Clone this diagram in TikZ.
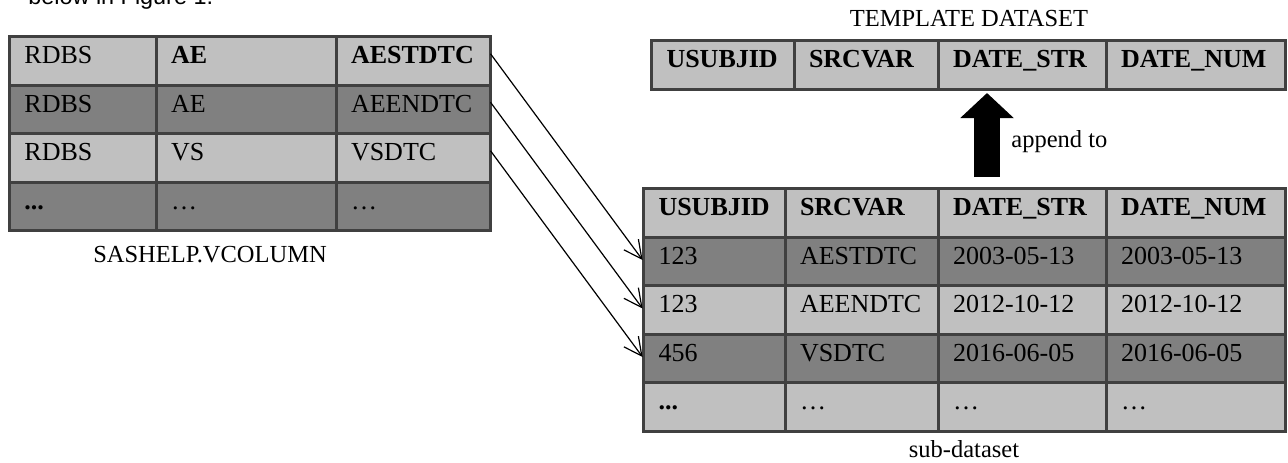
\documentclass[tikz,border=0pt]{standalone}
\usepackage{fontspec}
\setmainfont{Liberation Serif}
\newfontfamily\introfont{Liberation Sans}
\usetikzlibrary{positioning,arrows.meta}

\definecolor{lightcell}{HTML}{C0C0C0}
\definecolor{darkcell}{HTML}{808080}
\definecolor{gridline}{HTML}{404040}

\tikzset{
  cell/.style={draw=gridline, line width=1.5pt, outer sep=0pt, anchor=north west,
    inner xsep=7.5pt, inner ysep=4.5pt, text width=#1, text height=9pt, text depth=6.25pt,
    align=left, font=\fontsize{13pt}{15pt}\selectfont},
  caption/.style={anchor=base, font=\fontsize{12.25pt}{14pt}\selectfont},
  link/.style={line width=0.6pt, -{Straight Barb[length=9pt,width=9pt]}, shorten >=0.75pt},
}

\begin{document}
\begin{tikzpicture}[x=0.5pt,y=-0.5pt]
  \useasboundingbox (0,0) rectangle (1288,462);

  \node[anchor=base west, inner sep=0pt, font=\introfont\fontsize{11.7pt}{14pt}\selectfont]
    (intro) at (28,4) {below in Figure 1.};

  % SASHELP.VCOLUMN
  \foreach \r/\shade/\ca/\cb/\cc in {0/lightcell/RDBS/{\textbf{AE}}/{\textbf{AESTDTC}},
      1/darkcell/RDBS/AE/AEENDTC, 2/lightcell/RDBS/VS/VSDTC,
      3/darkcell/{\textbf{...}}/…/…}{
    \node[cell=58.25pt, fill=\shade] (vc-\r-1) at (9.5,{36.5+48.5*\r}) {\ca};
    \node[cell=75pt, fill=\shade, right=0pt of vc-\r-1] (vc-\r-2) {\cb};
    \node[cell=62.25pt, fill=\shade, right=0pt of vc-\r-2] (vc-\r-3) {\cc};
  }
  \node[caption] (vclabel) at (210,262) {SASHELP.VCOLUMN};

  % template dataset
  \node[caption] (tplabel) at (969,26) {TEMPLATE DATASET};
  \node[cell=56.25pt, fill=lightcell] (tp-1) at (651.5,40.5) {\textbf{USUBJID}};
  \node[cell=57pt, fill=lightcell, right=0pt of tp-1] (tp-2) {\textbf{SRCVAR}};
  \node[cell=69pt, fill=lightcell, right=0pt of tp-2] (tp-3) {\textbf{DATE\_STR}};
  \node[cell=74.75pt, fill=lightcell, right=0pt of tp-3] (tp-4) {\textbf{DATE\_NUM}};

  % sub-dataset
  \foreach \r/\shade/\ca/\cb/\cc/\cd in {0/lightcell/{\textbf{USUBJID}}/{\textbf{SRCVAR}}/{\textbf{DATE\_STR}}/{\textbf{DATE\_NUM}},
      1/darkcell/123/AESTDTC/2003-05-13/2003-05-13,
      2/lightcell/123/AEENDTC/2012-10-12/2012-10-12,
      3/darkcell/456/VSDTC/2016-06-05/2016-06-05,
      4/lightcell/{\textbf{...}}/…/…/…}{
    \node[cell=55.75pt, fill=\shade] (sd-\r-1) at (643.5,{188.5+48.5*\r}) {\ca};
    \node[cell=61.5pt, fill=\shade, right=0pt of sd-\r-1] (sd-\r-2) {\cb};
    \node[cell=69pt, fill=\shade, right=0pt of sd-\r-2] (sd-\r-3) {\cc};
    \node[cell=74.75pt, fill=\shade, right=0pt of sd-\r-3] (sd-\r-4) {\cd};
  }
  \node[caption] (sdlabel) at (964,457) {sub-dataset};

  % variables to rows
  \foreach \r/\s in {0/1,1/2,2/3}
    \draw[link] ([yshift=3.5pt]vc-\r-3.east) -- (sd-\s-1.west);

  % append arrow
  \coordinate (appfoot) at (987,177);
  \coordinate (apptip) at (987,93);
  \draw[line width=13pt, -{Triangle[length=12.5pt,width=26pt]}] (appfoot) -- (apptip);
  \node[anchor=base west, font=\fontsize{12.25pt}{14pt}\selectfont, inner sep=0pt]
    (applabel) at (1011,147) {append to};
\end{tikzpicture}
\end{document}
